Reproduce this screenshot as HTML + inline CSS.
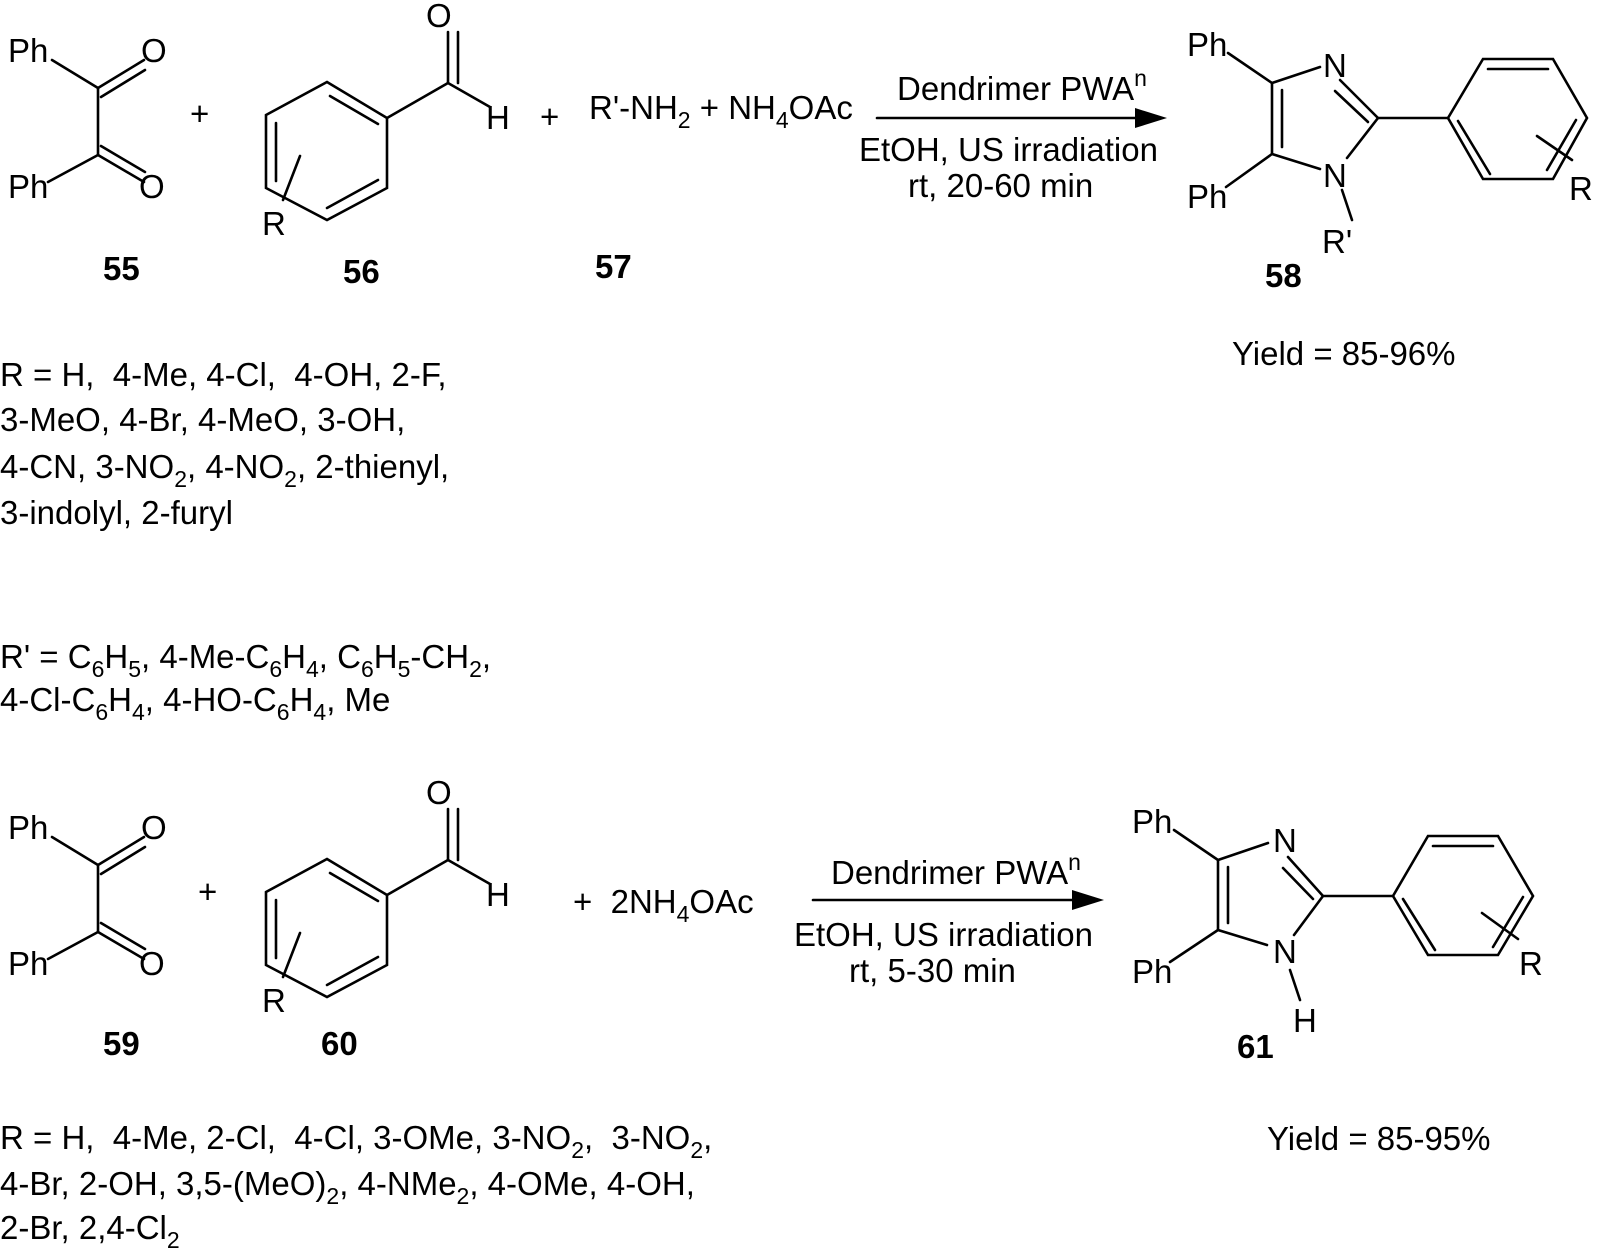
<!DOCTYPE html>
<html><head><meta charset="utf-8"><style>
html,body{margin:0;padding:0;background:#fff;}
svg{display:block;}
text{font-family:"Liberation Sans",Arial,sans-serif;font-size:33px;fill:#000;white-space:pre;}
.b{font-weight:bold;}
</style></head><body>
<svg width="1598" height="1250" viewBox="0 0 1598 1250" xmlns="http://www.w3.org/2000/svg" xml:space="preserve">
<defs>
<g id="left">
<g stroke="#000" stroke-width="2.6" fill="none" stroke-linecap="round">
<line x1="52" y1="60" x2="98" y2="88"/><line x1="98" y1="88" x2="98" y2="155"/>
<line x1="98" y1="88" x2="144" y2="60"/><line x1="101" y1="97" x2="145" y2="70"/>
<line x1="98" y1="155" x2="48" y2="182"/><line x1="98" y1="155" x2="144" y2="182"/><line x1="101" y1="146" x2="145" y2="172"/>
<polygon points="327,82 387,118 387,188 327,220 266,188 266,115"/>
<line x1="330" y1="96" x2="378" y2="124"/><line x1="276" y1="123" x2="276" y2="181"/><line x1="327" y1="208" x2="378" y2="180"/>
<line x1="387" y1="118" x2="448" y2="83"/><line x1="448" y1="83" x2="448" y2="32"/><line x1="458" y1="83" x2="458" y2="32"/>
<line x1="448" y1="83" x2="490" y2="107"/>
<line x1="300" y1="156" x2="283" y2="200"/>
</g>
<text x="8" y="62">Ph</text><text x="141" y="62">O</text>
<text x="8" y="198">Ph</text><text x="139" y="198">O</text>
<text x="426" y="27">O</text><text x="486" y="129">H</text>
<text x="262" y="235">R</text>
</g>
</defs>
<use href="#left"/>
<use href="#left" y="777"/>
<g stroke="#000" stroke-width="2.6" fill="none" stroke-linecap="round">
<line x1="877" y1="118" x2="1140" y2="118"/>
<line x1="1228" y1="53" x2="1272" y2="83"/><line x1="1272" y1="83" x2="1320" y2="67"/>
<line x1="1272" y1="83" x2="1272" y2="154"/><line x1="1282" y1="90" x2="1282" y2="147"/>
<line x1="1340" y1="80" x2="1378" y2="118"/><line x1="1335" y1="91" x2="1368" y2="122"/>
<line x1="1378" y1="118" x2="1347" y2="158"/>
<line x1="1272" y1="154" x2="1320" y2="169"/><line x1="1272" y1="154" x2="1226" y2="187"/>
<line x1="1342" y1="190" x2="1352" y2="220"/>
<line x1="1378" y1="118" x2="1448" y2="118"/>
<polygon points="1448,118 1483,59 1553,59 1587,118 1553,179 1483,179"/>
<line x1="1488" y1="69" x2="1548" y2="69"/><line x1="1458" y1="121" x2="1490" y2="174"/><line x1="1576" y1="120" x2="1547" y2="170"/>
<line x1="1537" y1="136" x2="1572" y2="160"/>
<line x1="813" y1="900" x2="1076" y2="900"/>
<line x1="1174" y1="830" x2="1218" y2="860"/><line x1="1218" y1="860" x2="1268" y2="843"/>
<line x1="1218" y1="860" x2="1218" y2="930"/><line x1="1228" y1="867" x2="1228" y2="923"/>
<line x1="1288" y1="857" x2="1323" y2="896"/><line x1="1283" y1="868" x2="1313" y2="899"/>
<line x1="1323" y1="896" x2="1294" y2="935"/>
<line x1="1218" y1="930" x2="1267" y2="945"/><line x1="1218" y1="930" x2="1170" y2="962"/>
<line x1="1290" y1="970" x2="1300" y2="1000"/>
<line x1="1323" y1="896" x2="1393" y2="896"/>
<polygon points="1393,896 1428,836 1498,836 1533,896 1498,955 1428,955"/>
<line x1="1433" y1="846" x2="1493" y2="846"/><line x1="1403" y1="899" x2="1435" y2="950"/><line x1="1523" y1="897" x2="1493" y2="947"/>
<line x1="1482" y1="913" x2="1518" y2="939"/>
</g>
<polygon points="1167,118 1135,108 1135,128" fill="#000"/>
<polygon points="1104,900 1072,890 1072,910" fill="#000"/>
<text x="190" y="125">+</text>
<text x="540" y="128">+</text>
<text x="589" y="119">R'-NH<tspan font-size="23" dy="9">2</tspan><tspan dy="-9"> + NH</tspan><tspan font-size="23" dy="9">4</tspan><tspan dy="-9">OAc</tspan></text>
<text x="897" y="100">Dendrimer PWA<tspan font-size="23" dy="-14">n</tspan></text>
<text x="859" y="161">EtOH, US irradiation</text>
<text x="908" y="197">rt, 20-60 min</text>
<text class="b" x="103" y="280">55</text><text class="b" x="343" y="283">56</text><text class="b" x="595" y="278">57</text>
<text x="1187" y="56">Ph</text><text x="1323" y="77">N</text>
<text x="1187" y="208">Ph</text><text x="1323" y="187">N</text>
<text x="1322" y="253">R'</text><text x="1569" y="200">R</text>
<text class="b" x="1265" y="287">58</text>
<text x="1232" y="365">Yield = 85-96%</text>
<text x="0" y="386">R = H,  4-Me, 4-Cl,  4-OH, 2-F,</text>
<text x="0" y="431">3-MeO, 4-Br, 4-MeO, 3-OH,</text>
<text x="0" y="478">4-CN, 3-NO<tspan font-size="23" dy="9">2</tspan><tspan dy="-9">, 4-NO</tspan><tspan font-size="23" dy="9">2</tspan><tspan dy="-9">, 2-thienyl,</tspan></text>
<text x="0" y="524">3-indolyl, 2-furyl</text>
<text x="0" y="668">R' = C<tspan font-size="23" dy="9">6</tspan><tspan dy="-9">H</tspan><tspan font-size="23" dy="9">5</tspan><tspan dy="-9">, 4-Me-C</tspan><tspan font-size="23" dy="9">6</tspan><tspan dy="-9">H</tspan><tspan font-size="23" dy="9">4</tspan><tspan dy="-9">, C</tspan><tspan font-size="23" dy="9">6</tspan><tspan dy="-9">H</tspan><tspan font-size="23" dy="9">5</tspan><tspan dy="-9">-CH</tspan><tspan font-size="23" dy="9">2</tspan><tspan dy="-9">,</tspan></text>
<text x="0" y="711">4-Cl-C<tspan font-size="23" dy="9">6</tspan><tspan dy="-9">H</tspan><tspan font-size="23" dy="9">4</tspan><tspan dy="-9">, 4-HO-C</tspan><tspan font-size="23" dy="9">6</tspan><tspan dy="-9">H</tspan><tspan font-size="23" dy="9">4</tspan><tspan dy="-9">, Me</tspan></text>
<text x="198" y="903">+</text>
<text x="573" y="913">+  2NH<tspan font-size="23" dy="9">4</tspan><tspan dy="-9">OAc</tspan></text>
<text x="831" y="884">Dendrimer PWA<tspan font-size="23" dy="-14">n</tspan></text>
<text x="794" y="946">EtOH, US irradiation</text>
<text x="849" y="982">rt, 5-30 min</text>
<text class="b" x="103" y="1055">59</text><text class="b" x="321" y="1055">60</text>
<text x="1132" y="833">Ph</text><text x="1273" y="852">N</text>
<text x="1132" y="983">Ph</text><text x="1273" y="963">N</text>
<text x="1293" y="1032">H</text><text x="1519" y="975">R</text>
<text class="b" x="1237" y="1058">61</text>
<text x="1267" y="1150">Yield = 85-95%</text>
<text x="0" y="1149">R = H,  4-Me, 2-Cl,  4-Cl, 3-OMe, 3-NO<tspan font-size="23" dy="9">2</tspan><tspan dy="-9">,  3-NO</tspan><tspan font-size="23" dy="9">2</tspan><tspan dy="-9">,</tspan></text>
<text x="0" y="1195">4-Br, 2-OH, 3,5-(MeO)<tspan font-size="23" dy="9">2</tspan><tspan dy="-9">, 4-NMe</tspan><tspan font-size="23" dy="9">2</tspan><tspan dy="-9">, 4-OMe, 4-OH,</tspan></text>
<text x="0" y="1239">2-Br, 2,4-Cl<tspan font-size="23" dy="9">2</tspan></text>
</svg>
</body></html>
